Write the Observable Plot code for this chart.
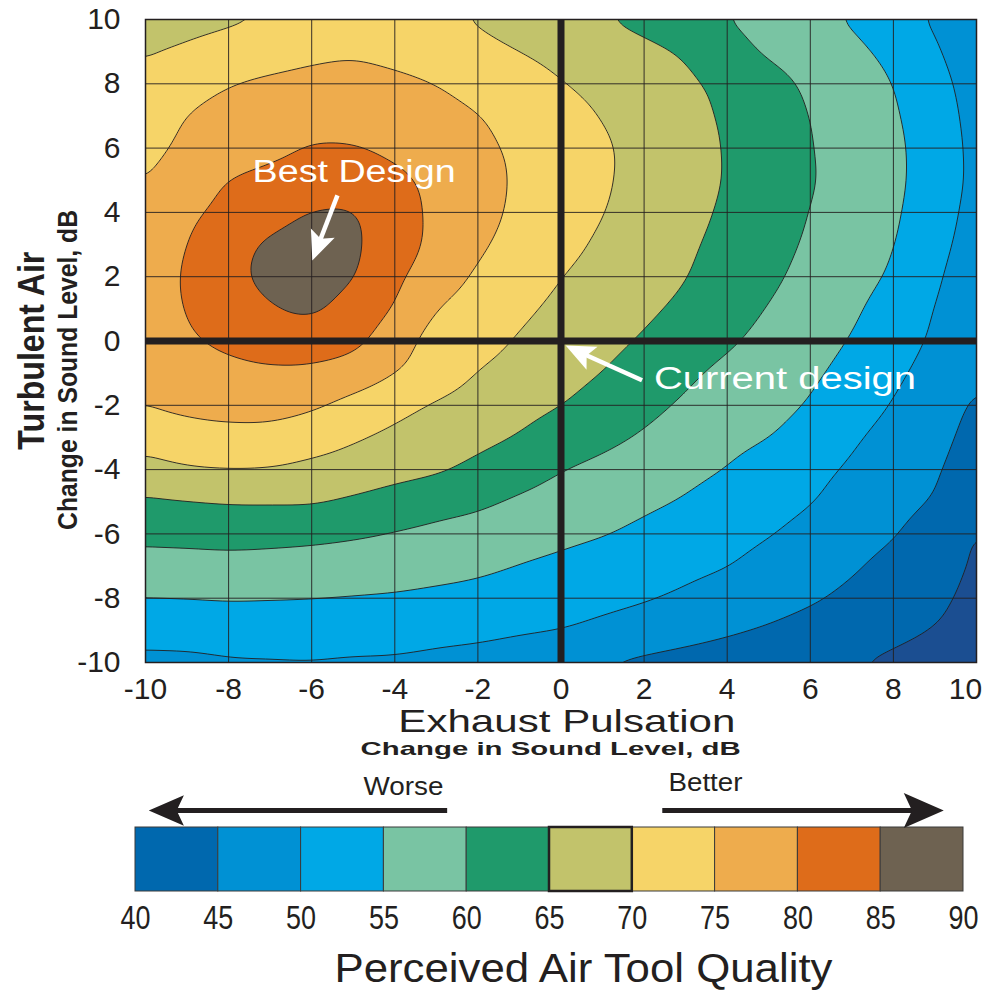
<!DOCTYPE html>
<html>
<head>
<meta charset="utf-8">
<script src="https://cdn.jsdelivr.net/npm/d3@7"></script>
<script src="https://cdn.jsdelivr.net/npm/@observablehq/plot@0.6"></script>
<style>
  body { margin: 0; background: #ffffff; }
  #chart { width: 985px; }
  #chart svg { display: block; }
</style>
</head>
<body>
<div id="chart"></div>
<script>
// ---------- data ----------
const xs = [-10,-9,-8,-7,-6,-5,-4,-3,-2,-1,0,1,2,3,4,5,6,7,8,9,10];
const ys = [10,9,8,7,6,5,4,3,2,1,0,-1,-2,-3,-4,-5,-6,-7,-8,-9,-10];
// perceived air tool quality at each (x, y) grid point; one row per y (top to bottom)
const quality = [
  [68.0,68.8,69.4,70.2,71.7,73.0,72.4,71.0,69.6,68.1,66.7,65.3,63.6,61.8,60.05,58.2,56.4,54.5,52.0,49.4,46.6],
  [69.7,70.6,71.7,72.8,74.0,74.5,73.8,72.6,71.3,70.0,68.7,67.3,66.0,64.4,61.8,59.5,57.8,56.0,53.7,50.5,47.3],
  [71.0,72.9,74.7,75.8,76.3,76.4,75.9,74.9,73.35,71.8,70.2,68.7,67.2,65.7,63.75,61.5,59.2,57.1,54.9,51.5,48.0],
  [72.3,75.0,76.7,77.8,78.3,78.2,77.5,76.4,75.1,73.3,71.6,69.8,68.1,66.3,64.4,62.2,59.9,57.7,55.5,52.2,48.4],
  [73.6,76.0,77.4,78.9,80.2,80.2,79.1,77.5,75.9,74.2,72.3,70.5,68.6,66.6,64.7,62.4,60.2,58.0,55.9,52.6,48.7],
  [75.0,77.5,80.0,81.3,82.2,82.2,80.9,78.8,76.5,74.4,72.4,70.5,68.6,66.7,64.7,62.5,60.3,58.1,55.9,52.7,48.7],
  [76.0,79.0,81.25,83.1,85.05,85.05,81.9,79.1,76.5,74.1,72.1,70.1,68.2,66.3,64.3,62.1,59.9,57.7,55.6,52.2,48.3],
  [77.0,80.0,83.0,85.6,86.8,85.6,82.3,78.7,75.7,73.4,71.3,69.3,67.5,65.7,63.7,61.5,59.4,57.2,55.1,51.5,47.8],
  [77.5,80.5,83.6,86.0,87.0,85.1,81.0,77.4,74.4,72.3,70.1,68.4,66.8,65.1,62.9,60.8,58.7,56.6,54.3,50.7,47.1],
  [77.5,80.2,82.4,84.6,85.5,82.9,79.6,75.2,73.0,70.9,69.0,67.4,65.8,64.0,61.9,59.8,57.8,55.7,53.0,49.9,46.8],
  [77.3,79.3,81.0,82.2,82.3,81.0,77.3,73.3,71.6,69.6,67.9,66.25,64.5,62.5,60.6,58.65,56.7,54.7,52.0,49.3,46.6],
  [76.2,77.5,78.6,79.2,79.0,77.6,75.0,72.4,69.9,68.3,66.6,64.9,62.9,60.8,59.0,57.4,55.7,53.55,50.9,48.3,45.7],
  [75.0,76.0,76.6,76.6,75.6,73.6,71.5,69.6,68.1,66.5,65.0,63.1,61.2,59.4,57.9,56.4,54.6,52.2,49.7,47.1,44.4],
  [71.9,72.9,73.4,73.3,72.2,70.55,69.0,67.6,66.2,64.64,62.7,61.1,59.5,57.9,56.3,55.0,53.0,50.65,48.4,46.2,43.6],
  [68.4,69.5,69.9,69.7,68.8,67.8,66.6,65.5,63.8,62.0,60.2,58.9,57.6,56.2,54.8,53.0,51.25,49.4,47.4,45.4,42.9],
  [64.4,64.9,65.3,65.4,65.3,64.27,63.0,61.8,60.8,59.4,58.2,57.1,55.85,54.6,53.1,51.6,50.15,48.3,46.5,44.6,42.2],
  [61.25,61.5,61.76,61.5,61.2,60.6,59.8,59.0,58.2,57.0,56.1,55.2,53.96,52.7,51.5,50.2,48.6,46.9,45.25,42.6,39.9],
  [58.1,58.2,58.35,58.3,58.0,57.6,57.2,56.6,55.87,54.9,54.0,52.96,52.0,51.0,50.05,48.5,47.0,45.5,43.6,41.5,39.5],
  [54.95,55.1,55.3,55.2,55.05,54.8,54.5,54.0,53.5,52.7,51.9,51.1,50.3,49.25,48.0,46.8,45.5,44.0,42.4,40.7,39.1],
  [51.85,51.9,52.2,52.3,52.3,52.1,51.9,51.4,51.1,50.5,49.9,48.85,47.8,46.7,45.6,44.5,43.3,42.2,41.0,39.8,38.6],
  [48.8,49.0,49.4,49.5,49.55,49.4,49.3,48.9,48.2,47.2,46.0,44.85,44.05,43.3,42.5,41.7,40.95,40.2,39.2,38.1,37.0]
];
const axisTicks = [-10,-8,-6,-4,-2,0,2,4,6,8,10];
const xTicksInner = [-10,-8,-6,-4,-2,0,2,4,6,8];
const xTickLast = [10];
const levels = [40,45,50,55,60,65,70,75,80,85];
const bandColors = ["#1b4e91","#0068ae","#0091d4","#00a8e6","#79c4a3","#1f9a6b","#c2c36b","#f6d468","#eeac4d","#de6c1a","#6e6251"];
const legendBands = [40,45,50,55,60,65,70,75,80,85];
const legendLabels = [40,45,50,55,60,65,70,75,80,85,90];
const currentBand = [65];

// annotations (data coordinates)
const notes = [
  {text: "Best Design", x: -4.98, y: 5.25},
  {text: "Current design", x: 5.39, y: -1.17}
];
const pointers = [
  {x1: -5.38, y1: 4.53, x2: -5.856, y2: 2.94, angle: 201},
  {x1: 1.95, y1: -1.22, x2: 0.438, y2: -0.343, angle: -64.4}
];

// ---------- build ----------
const points = [];
ys.forEach((y, j) => xs.forEach((x, i) => points.push({x, y, q: quality[j][i]})));

// smooth (Catmull-Rom bicubic) spatial interpolator for regularly gridded samples,
// handed to Plot.contour through its `interpolate` option
function interpolateBicubic(index, width, height, X, Y, V) {
  const key = v => Math.round(v * 1000);
  const ux = Array.from(new Set(Array.from(index, i => key(X[i])))).sort((a, b) => a - b);
  const uy = Array.from(new Set(Array.from(index, i => key(Y[i])))).sort((a, b) => a - b);
  const nx = ux.length, ny = uy.length;
  const ix = new Map(ux.map((v, i) => [v, i]));
  const iy = new Map(uy.map((v, i) => [v, i]));
  const G = new Float64Array(nx * ny);
  for (const i of index) G[iy.get(key(Y[i])) * nx + ix.get(key(X[i]))] = V[i];
  const get = (i, j) => {
    if (i < 0) return 2 * get(0, j) - get(1, j);
    if (i > nx - 1) return 2 * get(nx - 1, j) - get(nx - 2, j);
    if (j < 0) return 2 * get(i, 0) - get(i, 1);
    if (j > ny - 1) return 2 * get(i, ny - 1) - get(i, ny - 2);
    return G[j * nx + i];
  };
  const cr = (p0, p1, p2, p3, t) =>
    0.5 * (2 * p1 + (-p0 + p2) * t + (2 * p0 - 5 * p1 + 4 * p2 - p3) * t * t + (-p0 + 3 * p1 - 3 * p2 + p3) * t * t * t);
  const x0 = ux[0] / 1000, y0 = uy[0] / 1000;
  const sx = (ux[nx - 1] - ux[0]) / 1000 / (nx - 1);
  const sy = (uy[ny - 1] - uy[0]) / 1000 / (ny - 1);
  const out = new Float64Array(width * height);
  for (let r = 0; r < height; ++r) {
    const gy = (r + 0.5 - y0) / sy;
    const j = Math.max(0, Math.min(ny - 2, Math.floor(gy)));
    const ty = gy - j;
    for (let c = 0; c < width; ++c) {
      const gx = (c + 0.5 - x0) / sx;
      const i = Math.max(0, Math.min(nx - 2, Math.floor(gx)));
      const tx = gx - i;
      const rows = [];
      for (let k = -1; k <= 2; ++k) {
        rows.push(cr(get(i - 1, j + k), get(i, j + k), get(i + 1, j + k), get(i + 2, j + k), tx));
      }
      out[r * width + c] = cr(rows[0], rows[1], rows[2], rows[3], ty);
    }
  }
  return out;
}

const ink = "#231f20";
const sans = "'Liberation Sans', Arial, sans-serif";

const arrowHead = {
  draw(ctx, size) {
    const u = Math.sqrt(size / Math.PI);
    ctx.moveTo(0, -u);
    ctx.lineTo(0.85 * u, 0.95 * u);
    ctx.lineTo(0, 0.55 * u);
    ctx.lineTo(-0.85 * u, 0.95 * u);
    ctx.closePath();
  }
};

const tickText = {tickSize: 0, fontSize: 30, fontFamily: sans, color: ink, tickFormat: d => String(d), label: null};

const main = Plot.plot({
  width: 985,
  height: 762,
  marginTop: 19,
  marginLeft: 145,
  marginRight: 9,
  marginBottom: 100,
  style: {background: "#ffffff", fontFamily: sans},
  x: {domain: [-10, 10], axis: null},
  y: {domain: [-10, 10], axis: null},
  color: {type: "threshold", domain: levels, range: bandColors},
  marks: [
    Plot.contour(points, {
      x: "x", y: "y", fill: "q",
      thresholds: [30, ...levels],
      interpolate: interpolateBicubic,
      pixelSize: 1,
      blur: 7,
      stroke: ink,
      strokeWidth: 0.9
    }),
    Plot.gridX(axisTicks, {stroke: ink, strokeOpacity: 0.9, strokeWidth: 1}),
    Plot.gridY(axisTicks, {stroke: ink, strokeOpacity: 0.9, strokeWidth: 1}),
    Plot.ruleX([0], {stroke: ink, strokeWidth: 7}),
    Plot.ruleY([0], {stroke: ink, strokeWidth: 7}),
    Plot.frame({stroke: ink, strokeWidth: 1.5}),
    Plot.link(pointers, {x1: "x1", y1: "y1", x2: "x2", y2: "y2", stroke: "#ffffff", strokeWidth: 4.5}),
    Plot.dot(pointers, {x: "x2", y: "y2", symbol: arrowHead, r: 15, rotate: "angle", fill: "#ffffff", stroke: "none"}),
    Plot.text(notes, {x: "x", y: "y", text: "text", fill: "#ffffff", fontSize: 31, fontFamily: sans, lineAnchor: "middle"}),
    Plot.axisX(xTicksInner, {...tickText, tickPadding: 15}),
    Plot.axisX(xTickLast, {...tickText, tickPadding: 15, dx: -11}),
    Plot.axisY(axisTicks, {...tickText, tickPadding: 25}),
    Plot.text(["Exhaust Pulsation"], {x: 0.14, y: -11.83, text: d => d, fontSize: 32, fontFamily: sans, fill: ink, lineAnchor: "middle"}),
    Plot.text(["Change in Sound Level, dB"], {x: -0.25, y: -12.7, text: d => d, fontSize: 19, fontWeight: "bold", fontFamily: sans, fill: ink, lineAnchor: "middle"}),
    Plot.text(["Turbulent Air"], {x: -12.72, y: -0.3, text: d => d, rotate: -90, fontSize: 37, fontWeight: "bold", fontFamily: sans, fill: ink, lineAnchor: "middle"}),
    Plot.text(["Change in Sound Level, dB"], {x: -11.85, y: -0.9, text: d => d, rotate: -90, fontSize: 27, fontWeight: "bold", fontFamily: sans, fill: ink, lineAnchor: "middle"})
  ]
});

const legend = Plot.plot({
  width: 985,
  height: 230,
  marginLeft: 135,
  marginRight: 22,
  marginTop: 0,
  marginBottom: 0,
  style: {background: "#ffffff", fontFamily: sans},
  x: {domain: [40, 90], axis: null},
  y: {type: "identity", axis: null},
  r: {type: "identity"},
  color: {type: "threshold", domain: levels, range: bandColors},
  marks: [
    Plot.rect(legendBands, {x1: d => d, x2: d => d + 5, y1: 65, y2: 129, fill: d => d, stroke: "#3a3a3a", strokeWidth: 1}),
    Plot.rect(currentBand, {x1: d => d, x2: d => d + 5, y1: 65, y2: 129, fill: "none", stroke: ink, strokeWidth: 2.5}),
    Plot.text(legendLabels, {x: d => d, y: 156, text: d => String(d), fontSize: 34, fontFamily: sans, fill: ink, lineAnchor: "middle"}),
    Plot.text(["Perceived Air Tool Quality"], {x: 67.05, y: 207, text: d => d, fontSize: 40, fontFamily: sans, fill: ink, lineAnchor: "middle"}),
    Plot.text(["Worse"], {x: 56.18, y: 24, text: d => d, fontSize: 25, fontFamily: sans, fill: ink, lineAnchor: "middle"}),
    Plot.text(["Better"], {x: 74.42, y: 20.5, text: d => d, fontSize: 25, fontFamily: sans, fill: ink, lineAnchor: "middle"}),
    Plot.link([{a: 58.82, b: 42.11}, {a: 71.81, b: 87.1}], {x1: "a", x2: "b", y1: 48, y2: 48, stroke: ink, strokeWidth: 5}),
    Plot.dot([{x: 41.89, r: 18, angle: -90}, {x: 87.57, r: 20.5, angle: 90}], {x: "x", y: 48, r: "r", rotate: "angle", symbol: arrowHead, fill: ink, stroke: "none"})
  ]
});

// fit text widths to the reference
const widths = {
  "Exhaust Pulsation": 337,
  "Change in Sound Level, dB": 380,
  "v:Change in Sound Level, dB": 320,
  "v:Turbulent Air": 198,
  "Best Design": 203,
  "Current design": 262,
  "Worse": 80,
  "Better": 74,
  "Perceived Air Tool Quality": 498
};
legendLabels.forEach(v => { widths[String(v)] = 30; });
[main, legend].forEach(svg => {
  svg.querySelectorAll("text").forEach(t => {
    const rot = (t.getAttribute("transform") || "").includes("rotate");
    const key = (rot ? "v:" : "") + t.textContent;
    const w = widths[key];
    if (w && !(svg === main && /^-?\d+$/.test(t.textContent))) {
      t.setAttribute("textLength", w);
      t.setAttribute("lengthAdjust", "spacingAndGlyphs");
    }
  });
});

document.getElementById("chart").append(main, legend);
</script>
</body>
</html>
